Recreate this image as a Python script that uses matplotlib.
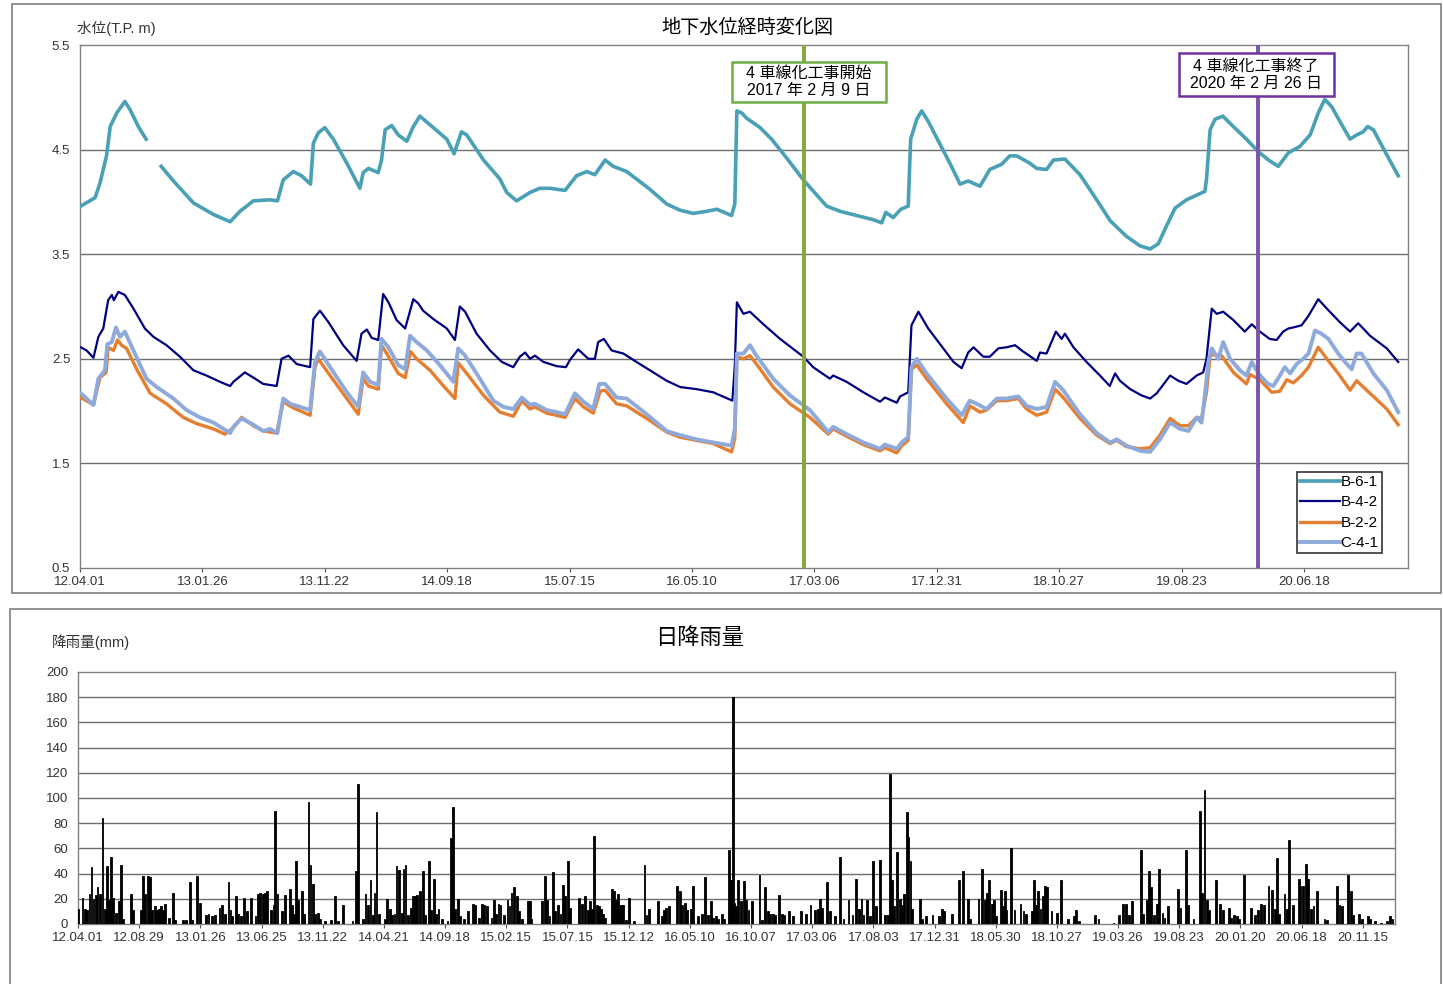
import numpy as np
import matplotlib
matplotlib.use("Agg")
import matplotlib.pyplot as plt
import matplotlib.dates as mdates
from matplotlib.patches import Rectangle

plt.rcParams['font.family'] = ['Liberation Sans', 'Noto Sans CJK JP', 'DejaVu Sans']

START = np.datetime64('2012-04-01')

# --- groundwater levels (day offset from 2012-04-01, T.P. m) ---
b61_day = [2, 37, 49, 65, 74, 90, 110, 123, 143, 162, 180,
           199, 229, 278, 327, 368, 392, 425, 466, 484, 498, 523, 543, 565, 572, 584, 600,
           621, 654, 686, 694, 707, 731, 739, 748, 764, 780, 801, 817, 833, 866, 899, 917,
           935, 948, 989, 1029, 1046, 1070, 1103, 1127, 1152, 1189, 1217, 1242, 1262,
           1287, 1307, 1340, 1397, 1438, 1471, 1503, 1536, 1561, 1597, 1605, 1610, 1622,
           1634, 1667, 1695, 1732, 1773, 1830, 1863, 1904, 1944, 1965, 1975, 1993, 2012,
           2030, 2036, 2051, 2063, 2079, 2112, 2132, 2157, 2177, 2206, 2230, 2259, 2279,
           2296, 2328, 2345, 2369, 2386, 2414, 2451, 2492, 2525, 2565, 2598, 2623, 2643,
           2663, 2684, 2712, 2757, 2761, 2770, 2782, 2801, 2827, 2859, 2888, 2913, 2937,
           2962, 2990, 3015, 3035, 3051, 3068, 3088, 3113, 3129, 3145, 3156, 3170, 3203, 3231]
b61_val = [3.96, 4.04, 4.18, 4.44, 4.72, 4.85, 4.96, 4.88, 4.72, 4.60, np.nan,
           4.34, 4.20, 3.99, 3.88, 3.81, 3.91, 4.01, 4.02, 4.01, 4.21, 4.29, 4.25, 4.17, 4.56, 4.66, 4.71,
           4.60, 4.37, 4.13, 4.28, 4.32, 4.28, 4.40, 4.69, 4.73, 4.64, 4.58, 4.72, 4.82, 4.71, 4.60, 4.46,
           4.67, 4.64, 4.40, 4.22, 4.09, 4.01, 4.09, 4.13, 4.13, 4.11, 4.25, 4.29, 4.26,
           4.40, 4.34, 4.29, 4.12, 3.98, 3.92, 3.89, 3.91, 3.93, 3.87, 3.98, 4.87, 4.85,
           4.80, 4.71, 4.60, 4.42, 4.21, 3.96, 3.91, 3.87, 3.83, 3.80, 3.90, 3.85, 3.93,
           3.96, 4.60, 4.79, 4.87, 4.77, 4.52, 4.37, 4.17, 4.20, 4.15, 4.31, 4.36, 4.44,
           4.44, 4.37, 4.32, 4.31, 4.40, 4.41, 4.26, 4.02, 3.82, 3.67, 3.58, 3.55, 3.60,
           3.77, 3.94, 4.02, 4.10, 4.21, 4.69, 4.79, 4.82, 4.72, 4.60, 4.48, 4.40, 4.34,
           4.47, 4.53, 4.64, 4.85, 4.98, 4.91, 4.77, 4.60, 4.64, 4.67, 4.72, 4.69, 4.45, 4.25]

b42_day = [2, 16, 33, 45, 57, 69, 78, 83, 94, 110, 131, 159, 180, 212, 245, 278, 310,
           343, 368, 376, 404, 425, 449, 482, 494, 511, 531, 564, 572, 588, 609, 645,
           678, 690, 703, 715, 731, 743, 756, 776, 797, 817, 829, 841, 866, 899, 919,
           931, 944, 972, 1005, 1034, 1062, 1078, 1091, 1103, 1115, 1136, 1152, 1168,
           1191, 1201, 1221, 1246, 1262, 1270, 1284, 1303, 1332, 1364, 1397, 1438, 1471,
           1511, 1552, 1599, 1605, 1610, 1626, 1642, 1675, 1716, 1773, 1797, 1838, 1846,
           1879, 1920, 1961, 1973, 2002, 2010, 2030, 2038, 2055, 2079, 2116, 2141, 2161,
           2177, 2190, 2214, 2230, 2251, 2271, 2292, 2308, 2345, 2353, 2369, 2392, 2406,
           2414, 2435, 2467, 2500, 2524, 2537, 2549, 2574, 2602, 2623, 2639, 2672, 2692,
           2712, 2737, 2753, 2761, 2774, 2786, 2802, 2827, 2855, 2872, 2892, 2916, 2933,
           2949, 2962, 2974, 2994, 3011, 3035, 3056, 3088, 3113, 3133, 3162, 3203, 3231]
b42_val = [2.61, 2.58, 2.51, 2.71, 2.79, 3.06, 3.11, 3.06, 3.14, 3.11, 2.98, 2.79, 2.71,
           2.63, 2.52, 2.39, 2.34, 2.28, 2.24, 2.28, 2.37, 2.32, 2.26, 2.24, 2.50, 2.53,
           2.45, 2.42, 2.88, 2.96, 2.85, 2.63, 2.48, 2.74, 2.78, 2.70, 2.68, 3.12, 3.04,
           2.87, 2.79, 3.07, 3.03, 2.96, 2.88, 2.79, 2.68, 3.00, 2.95, 2.74, 2.58, 2.47,
           2.42, 2.52, 2.56, 2.50, 2.53, 2.47, 2.45, 2.43, 2.42, 2.49, 2.59, 2.50, 2.50,
           2.66, 2.69, 2.58, 2.55, 2.47, 2.39, 2.29, 2.23, 2.21, 2.18, 2.10, 2.44, 3.04,
           2.93, 2.95, 2.83, 2.69, 2.52, 2.42, 2.31, 2.34, 2.28, 2.18, 2.09, 2.13, 2.08,
           2.14, 2.18, 2.82, 2.95, 2.79, 2.60, 2.47, 2.41, 2.56, 2.61, 2.52, 2.52, 2.60,
           2.61, 2.63, 2.58, 2.48, 2.56, 2.55, 2.76, 2.69, 2.74, 2.61, 2.47, 2.34, 2.24,
           2.36, 2.29, 2.21, 2.15, 2.12, 2.17, 2.34, 2.29, 2.26, 2.34, 2.37, 2.50, 2.98,
           2.93, 2.95, 2.87, 2.76, 2.83, 2.76, 2.69, 2.68, 2.76, 2.79, 2.80, 2.82, 2.91,
           3.07, 2.98, 2.85, 2.76, 2.84, 2.72, 2.60, 2.47]

b22_day = [2, 33, 49, 64, 69, 82, 92, 102, 114, 139, 172, 212, 253, 286, 327, 355, 376,
           396, 425, 449, 482, 498, 523, 564, 576, 584, 613, 654, 682, 694, 707, 731,
           739, 752, 780, 797, 810, 825, 858, 891, 919, 927, 948, 989, 1029, 1038, 1062,
           1083, 1103, 1115, 1144, 1168, 1189, 1213, 1234, 1258, 1275, 1287, 1315, 1340,
           1389, 1438, 1471, 1511, 1552, 1597, 1605, 1610, 1626, 1642, 1658, 1699, 1740,
           1789, 1834, 1846, 1879, 1920, 1961, 1973, 2002, 2014, 2030, 2038, 2051, 2075,
           2124, 2165, 2181, 2206, 2222, 2247, 2271, 2300, 2320, 2345, 2369, 2390, 2410,
           2451, 2492, 2525, 2541, 2565, 2598, 2623, 2647, 2672, 2696, 2717, 2737, 2749,
           2761, 2770, 2778, 2798, 2827, 2859, 2868, 2892, 2921, 2941, 2958, 2974, 2994,
           3011, 3035, 3056, 3084, 3113, 3129, 3162, 3203, 3231]
b22_val = [2.13, 2.06, 2.32, 2.37, 2.61, 2.58, 2.68, 2.63, 2.60, 2.40, 2.17, 2.07, 1.94,
           1.88, 1.83, 1.78, 1.84, 1.94, 1.86, 1.81, 1.79, 2.09, 2.03, 1.96, 2.42, 2.50,
           2.34, 2.12, 1.97, 2.31, 2.24, 2.21, 2.63, 2.55, 2.36, 2.32, 2.57, 2.50, 2.39,
           2.24, 2.12, 2.46, 2.36, 2.15, 1.99, 1.98, 1.95, 2.10, 2.02, 2.04, 1.98, 1.96,
           1.94, 2.12, 2.04, 1.98, 2.19, 2.20, 2.07, 2.05, 1.93, 1.80, 1.75, 1.72, 1.69,
           1.61, 1.74, 2.52, 2.50, 2.53, 2.45, 2.23, 2.07, 1.94, 1.78, 1.83, 1.76, 1.68,
           1.62, 1.65, 1.60, 1.67, 1.72, 2.40, 2.44, 2.31, 2.07, 1.89, 2.05, 1.99, 2.01,
           2.10, 2.10, 2.12, 2.02, 1.96, 1.99, 2.21, 2.13, 1.93, 1.77, 1.69, 1.72, 1.66,
           1.64, 1.65, 1.77, 1.93, 1.86, 1.86, 1.94, 1.93, 2.18, 2.53, 2.54, 2.53, 2.37,
           2.26, 2.35, 2.30, 2.18, 2.19, 2.30, 2.27, 2.34, 2.42, 2.61, 2.50, 2.36, 2.20,
           2.29, 2.17, 2.02, 1.87]

c41_day = [2, 33, 45, 61, 67, 78, 88, 98, 110, 131, 163, 188, 229, 261, 294, 327, 368,
           376, 396, 425, 449, 466, 484, 498, 515, 539, 564, 576, 588, 613, 654, 682,
           694, 711, 731, 739, 756, 780, 797, 809, 825, 850, 882, 915, 927, 944, 980,
           1013, 1038, 1062, 1083, 1103, 1115, 1144, 1168, 1189, 1213, 1234, 1258, 1273,
           1287, 1315, 1340, 1389, 1438, 1471, 1511, 1552, 1597, 1605, 1610, 1626, 1642,
           1658, 1699, 1740, 1789, 1834, 1846, 1879, 1920, 1961, 1973, 2002, 2014, 2030,
           2038, 2051, 2075, 2124, 2161, 2181, 2198, 2222, 2247, 2271, 2300, 2320, 2345,
           2369, 2390, 2410, 2451, 2492, 2525, 2541, 2565, 2598, 2623, 2647, 2672, 2696,
           2717, 2737, 2749, 2757, 2766, 2774, 2790, 2802, 2819, 2843, 2859, 2872, 2888,
           2912, 2925, 2941, 2953, 2966, 2982, 2998, 3011, 3027, 3043, 3060, 3084, 3105,
           3117, 3129, 3141, 3170, 3203, 3231]
c41_val = [2.17, 2.06, 2.31, 2.39, 2.64, 2.66, 2.80, 2.71, 2.76, 2.58, 2.31, 2.23, 2.12,
           2.01, 1.94, 1.89, 1.79, 1.85, 1.93, 1.87, 1.81, 1.83, 1.79, 2.12, 2.07, 2.04,
           2.01, 2.47, 2.57, 2.42, 2.18, 2.04, 2.37, 2.28, 2.25, 2.69, 2.61, 2.44, 2.40,
           2.72, 2.66, 2.58, 2.44, 2.28, 2.60, 2.53, 2.31, 2.10, 2.04, 2.02, 2.13, 2.06,
           2.07, 2.01, 1.99, 1.97, 2.17, 2.09, 2.02, 2.26, 2.26, 2.13, 2.12, 1.97, 1.81,
           1.77, 1.73, 1.70, 1.67, 1.83, 2.55, 2.55, 2.63, 2.53, 2.31, 2.15, 2.01, 1.80,
           1.85, 1.78, 1.70, 1.64, 1.68, 1.64, 1.70, 1.75, 2.42, 2.50, 2.36, 2.12, 1.96,
           2.10, 2.07, 2.02, 2.12, 2.12, 2.14, 2.05, 2.02, 2.04, 2.28, 2.20, 1.97, 1.79,
           1.70, 1.73, 1.67, 1.62, 1.61, 1.73, 1.89, 1.83, 1.81, 1.94, 1.89, 2.15, 2.48,
           2.60, 2.50, 2.66, 2.50, 2.39, 2.34, 2.47, 2.36, 2.26, 2.24, 2.34, 2.42, 2.36,
           2.45, 2.50, 2.55, 2.77, 2.74, 2.69, 2.55, 2.45, 2.40, 2.55, 2.55, 2.36, 2.20, 1.99]

# --- daily rainfall (day offset from 2012-04-01, mm) ---
rain_day = [1, 11, 17, 22, 28, 33, 38, 44, 48, 54, 60, 66, 71, 76, 81, 85, 93, 100, 105, 110,
            130, 135, 154, 159, 164, 172, 176, 182, 189, 194, 199, 203, 208, 213, 223, 232,
            238, 258, 265, 274, 279, 292, 299, 313, 320, 328, 336, 347, 354, 361, 369, 374,
            377, 387, 393, 399, 408, 415, 425, 435, 442, 447, 454, 458, 463, 474, 480, 484,
            489, 501, 508, 519, 525, 530, 535, 540, 550, 555, 565, 570, 576, 581, 588, 593,
            606, 620, 630, 638, 649, 673, 681, 687, 698, 705, 711, 717, 723, 727, 732, 738,
            753, 758, 765, 770, 776, 781, 786, 794, 798, 803, 810, 817, 822, 827, 832, 838,
            846, 851, 860, 866, 872, 878, 884, 893, 906, 915, 919, 924, 932, 937, 946, 957,
            969, 974, 983, 991, 996, 1003, 1014, 1020, 1024, 1031, 1036, 1045, 1053, 1058,
            1063, 1070, 1076, 1081, 1088, 1104, 1108, 1112, 1137, 1144, 1149, 1156, 1164,
            1170, 1176, 1183, 1189, 1194, 1202, 1207, 1229, 1235, 1243, 1250, 1256, 1261,
            1266, 1272, 1278, 1283, 1288, 1293, 1310, 1314, 1319, 1323, 1328, 1333, 1337,
            1344, 1351, 1364, 1389, 1394, 1400, 1423, 1431, 1437, 1442, 1448, 1468, 1475,
            1480, 1489, 1494, 1502, 1508, 1520, 1529, 1537, 1544, 1551, 1557, 1564, 1570,
            1578, 1584, 1597, 1601, 1605, 1609, 1614, 1619, 1625, 1632, 1637, 1644, 1652,
            1671, 1677, 1685, 1691, 1697, 1703, 1709, 1718, 1726, 1731, 1744, 1754, 1773,
            1784, 1796, 1807, 1814, 1820, 1825, 1836, 1844, 1855, 1869, 1877, 1889, 1899,
            1907, 1914, 1921, 1926, 1934, 1942, 1949, 1957, 1966, 1979, 1985, 1990, 1995,
            2001, 2007, 2016, 2021, 2026, 2032, 2036, 2041, 2044, 2064, 2070, 2079, 2095,
            2110, 2118, 2124, 2142, 2161, 2169, 2182, 2187, 2208, 2216, 2223, 2228, 2234,
            2241, 2245, 2250, 2262, 2267, 2272, 2275, 2288, 2296, 2311, 2318, 2324, 2339,
            2344, 2349, 2354, 2360, 2365, 2371, 2375, 2387, 2400, 2410, 2428, 2441, 2447,
            2455, 2494, 2502, 2539, 2553, 2563, 2570, 2576, 2584, 2606, 2612, 2621, 2626,
            2631, 2638, 2645, 2651, 2659, 2664, 2672, 2697, 2703, 2716, 2721, 2735, 2751,
            2755, 2762, 2768, 2773, 2791, 2800, 2807, 2821, 2827, 2834, 2841, 2847, 2858,
            2876, 2885, 2893, 2901, 2907, 2919, 2927, 2934, 2939, 2945, 2958, 2964, 2970,
            2978, 2993, 2997, 3003, 3010, 3015, 3024, 3029, 3037, 3056, 3062, 3086, 3093,
            3099, 3114, 3122, 3127, 3140, 3149, 3163, 3168, 3180, 3195, 3209, 3217, 3223]
rain_mm = [12, 21, 12, 11, 24, 45, 20, 23, 29, 24, 84, 12, 46, 19, 53, 21, 9, 18, 47, 4,
           24, 11, 11, 38, 24, 38, 37, 11, 14, 11, 12, 14, 11, 16, 5, 25,
           3, 3, 3, 33, 3, 38, 17, 7, 8, 6, 7, 13, 15, 8, 33, 11,
           6, 22, 8, 6, 21, 10, 21, 6, 24, 25, 24, 25, 26, 11, 15, 90,
           24, 10, 23, 28, 15, 8, 50, 19, 26, 8, 97, 47, 32, 8, 9, 4,
           2, 3, 22, 2, 15, 2, 42, 111, 4, 24, 15, 35, 7, 25, 89, 8,
           4, 20, 12, 7, 8, 46, 43, 9, 44, 47, 7, 13, 22, 22, 23, 26,
           42, 7, 50, 11, 36, 8, 12, 4, 2, 68, 93, 12, 20, 6, 4, 10,
           16, 15, 5, 16, 15, 14, 5, 19, 8, 16, 15, 7, 19, 14,
           25, 29, 22, 10, 4, 18, 18, 4, 18, 38, 19, 6, 41,
           10, 15, 8, 31, 22, 50, 13, 21, 16, 22, 11, 18, 12,
           70, 15, 14, 12, 8, 5, 28, 26, 19, 24, 15, 15, 15,
           3, 21, 2, 47, 7, 12, 18, 6, 11, 13, 14, 30, 26,
           15, 17, 11, 12, 30, 6, 8, 37, 7, 18, 5, 6, 4,
           8, 4, 59, 35, 180, 17, 14, 35, 18, 34, 19, 11, 18,
           39, 3, 29, 10, 8, 8, 7, 23, 8, 7, 10, 6, 10,
           8, 15, 11, 12, 20, 13, 33, 10, 6, 53, 4, 19, 7,
           36, 12, 20, 7, 19, 6, 50, 14, 51, 7, 7, 119, 35,
           14, 57, 20, 15, 24, 89, 69, 50, 12, 20, 4, 6, 7,
           6, 12, 10, 8, 35, 42, 20, 4, 20, 44, 19, 25, 35,
           16, 19, 6, 27, 14, 26, 11, 60, 11, 16, 10, 8, 10,
           35, 15, 26, 12, 22, 30, 29, 10, 9, 35, 4, 6, 11,
           2, 7, 4, 1, 7, 16, 16, 7, 18, 59, 8, 19, 42,
           29, 7, 16, 44, 9, 5, 14, 28, 13, 59, 15, 4, 90,
           25, 106, 19, 11, 35, 16, 11, 13, 5, 7, 6, 4, 39,
           13, 7, 11, 16, 15, 30, 27, 12, 52, 8, 24, 12, 67,
           15, 36, 30, 30, 48, 36, 12, 14, 26, 4, 3, 30, 15,
           14, 39, 26, 7, 8, 4, 6, 4, 2, 1, 2, 6, 4]

top_ticks = list(range(0, 3001, 300))
bottom_ticks = list(range(0, 3151, 150))
start_work = np.datetime64('2017-02-09')
end_work = np.datetime64('2020-02-26')


def to_date(days):
    return START + np.array(days, dtype='timedelta64[D]')


fig = plt.figure(figsize=(14.43, 9.84), dpi=100)
W, H = 1443, 984


def px_rect(x0, y0, x1, y1, color, lw, fill=False, z=1):
    # rectangle given in image pixels (origin top-left)
    r = Rectangle((x0 / W, 1 - y1 / H), (x1 - x0) / W, (y1 - y0) / H,
                  transform=fig.transFigure, fill=fill, facecolor='white',
                  edgecolor=color, lw=lw, zorder=z)
    fig.patches.append(r)
    return r


# outer frames of the two chart blocks
px_rect(12, 4, 1441, 593, '#7f7f7f', 1.2)
px_rect(10, 609, 1441, 995, '#7f7f7f', 1.2)

grid_col = '#6e6e6e'
tick_col = '#333333'

# ---------------- groundwater panel ----------------
ax = fig.add_axes([80 / W, 1 - 568 / H, (1408 - 80) / W, (568 - 45) / H])
for y in [1.5, 2.5, 3.5, 4.5]:
    ax.axhline(y, color=grid_col, lw=1.0, zorder=1)

ax.plot(to_date(b61_day), b61_val, color='#4aa0b5', lw=2.6, label='B-6-1', zorder=3)
ax.plot(to_date(b42_day), b42_val, color='#000080', lw=1.6, label='B-4-2', zorder=3)
ax.plot(to_date(b22_day), b22_val, color='#e67e30', lw=2.4, label='B-2-2', zorder=3)
ax.plot(to_date(c41_day), c41_val, color='#8eaadb', lw=2.8, label='C-4-1', zorder=4)

ax.axvline(start_work, color='#84a83c', lw=2.8, zorder=5)
ax.axvline(end_work, color='#7a55a8', lw=2.8, zorder=5)

ax.set_ylim(0.5, 5.5)
ax.set_yticks([0.5, 1.5, 2.5, 3.5, 4.5, 5.5])
ax.set_xlim(START, START + np.timedelta64(3255, 'D'))
ax.set_xticks(to_date(top_ticks))
ax.xaxis.set_major_formatter(mdates.DateFormatter('%y.%m.%d'))
ax.tick_params(axis='x', length=3, color='#555555', labelsize=9.5, labelcolor=tick_col, pad=3)
ax.tick_params(axis='y', length=0, labelsize=9.5, labelcolor=tick_col, pad=7)
for s in ax.spines.values():
    s.set_color('#808080')
    s.set_linewidth(1.0)

leg = ax.legend(loc='upper left', bbox_to_anchor=((1297 - 80) / 1328, (568 - 472) / 523),
                fontsize=11, frameon=True, fancybox=False, edgecolor='black',
                handlelength=2.6, handletextpad=0.05, labelspacing=0.42,
                borderpad=0.2, borderaxespad=0)
leg.get_frame().set_linewidth(1.2)

# annotation boxes for construction start / end
box1 = px_rect(732, 62, 886, 102, '#70ad47', 1.8, fill=True, z=6)
box2 = px_rect(1179, 53, 1334, 96, '#7030a0', 1.8, fill=True, z=6)
fig.text(809 / W, 1 - 82 / H, '4 車線化工事開始\n2017 年 2 月 9 日', fontsize=11.5,
         ha='center', va='center', linespacing=1.2, zorder=7)
fig.text(1256 / W, 1 - 74.5 / H, '4 車線化工事終了\n2020 年 2 月 26 日', fontsize=11.5,
         ha='center', va='center', linespacing=1.2, zorder=7)

fig.text(747 / W, 1 - 28 / H, '地下水位経時変化図', ha='center', va='center', fontsize=13.8)
fig.text(77 / W, 1 - 28 / H, '水位(T.P. m)', ha='left', va='center', fontsize=10.5, color='#333333')

# ---------------- rainfall panel ----------------
ax2 = fig.add_axes([78 / W, 1 - 924 / H, (1395 - 78) / W, (924 - 672) / H])
for y in range(20, 200, 20):
    ax2.axhline(y, color=grid_col, lw=1.0, zorder=1)
ax2.bar(to_date(rain_day), rain_mm, width=4.5, color='black', edgecolor='black',
        linewidth=0.6, zorder=3)
ax2.set_ylim(0, 200)
ax2.set_yticks(range(0, 201, 20))
ax2.set_xlim(START, START + np.timedelta64(3229, 'D'))
ax2.set_xticks(to_date(bottom_ticks))
ax2.xaxis.set_major_formatter(mdates.DateFormatter('%y.%m.%d'))
ax2.tick_params(axis='x', length=3, color='#555555', labelsize=9.5, labelcolor=tick_col, pad=3)
ax2.tick_params(axis='y', length=0, labelsize=9.5, labelcolor=tick_col, pad=7)
for s in ax2.spines.values():
    s.set_color('#808080')
    s.set_linewidth(1.0)

fig.text(700 / W, 1 - 639 / H, '日降雨量', ha='center', va='center', fontsize=16)
fig.text(52 / W, 1 - 642 / H, '降雨量(mm)', ha='left', va='center', fontsize=10.5, color='#333333')

fig.savefig('out.png', dpi=100)
